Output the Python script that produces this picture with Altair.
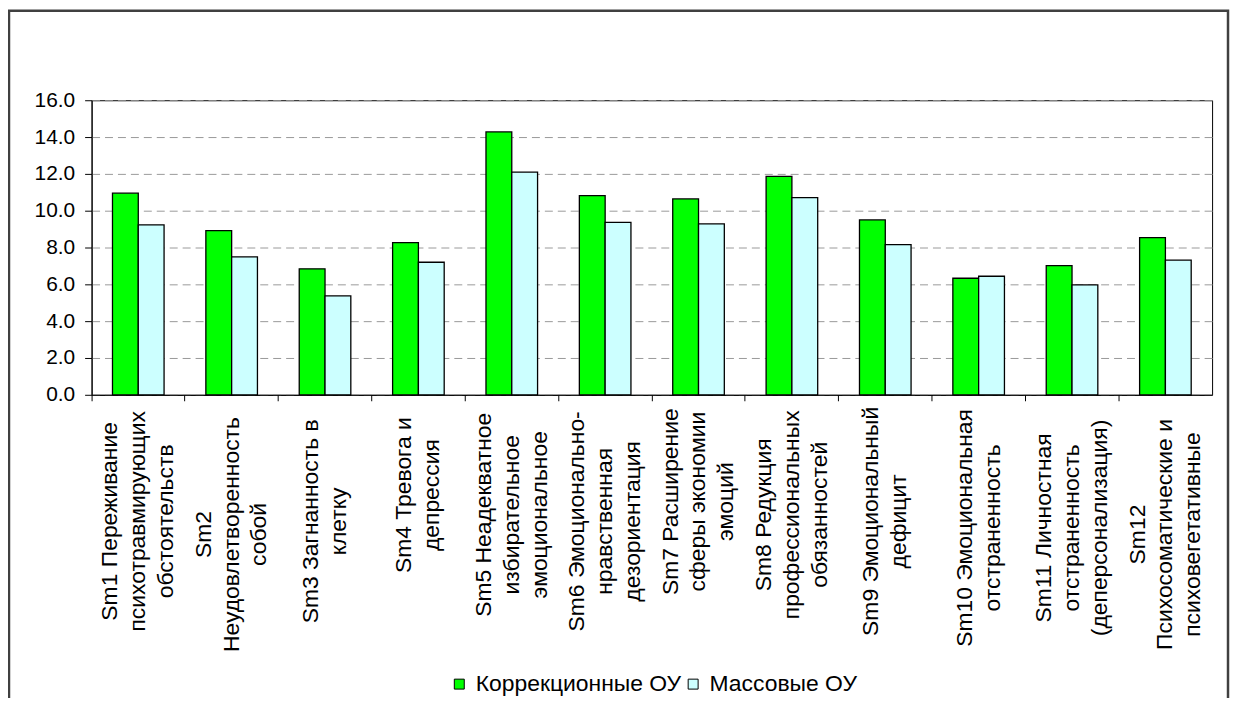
import altair as alt
import pandas as pd

codes = ["Sm1", "Sm2", "Sm3", "Sm4", "Sm5", "Sm6", "Sm7", "Sm8", "Sm9", "Sm10", "Sm11", "Sm12"]
label_lines = [
    ["Sm1 Переживание", "психотравмирующих", "обстоятельств"],
    ["Sm2", "Неудовлетворенность", "собой"],
    ["Sm3 Загнанность в", "клетку"],
    ["Sm4 Тревога и", "депрессия"],
    ["Sm5 Неадекватное", "избирательное", "эмоциональное"],
    ["Sm6 Эмоционально-", "нравственная", "дезориентация"],
    ["Sm7 Расширение", "сферы экономии", "эмоций"],
    ["Sm8 Редукция", "профессиональных", "обязанностей"],
    ["Sm9 Эмоциональный", "дефицит"],
    ["Sm10 Эмоциональная", "отстраненность"],
    ["Sm11 Личностная", "отстраненность", "(деперсонализация)"],
    ["Sm12", "Психосоматические и", "психовегетативные"],
]
korr = [10.95, 8.92, 6.84, 8.27, 14.28, 10.82, 10.64, 11.87, 9.50, 6.33, 7.02, 8.54]
mass = [9.23, 7.49, 5.37, 7.20, 12.09, 9.37, 9.28, 10.71, 8.16, 6.44, 5.97, 7.31]
series = ["Коррекционные ОУ", "Массовые ОУ"]
colors = ["#00FF00", "#CCFFFF"]
y_ticks = [0, 2, 4, 6, 8, 10, 12, 14, 16]

FONT = "Liberation Sans"

bars_df = pd.DataFrame({
    "code": codes + codes,
    "series": [series[0]] * len(codes) + [series[1]] * len(codes),
    "value": korr + mass,
})
labels_df = pd.DataFrame({
    "code": codes,
    "label": ["\n".join(l) for l in label_lines],
    "maxchars": [max(len(s) for s in l) for l in label_lines],
    "nlines": [len(l) for l in label_lines],
})

y_scale = alt.Scale(domain=[0, 16], nice=False)
y_axis = alt.Axis(values=y_ticks, format=".1f", title=None, tickSize=7,
                  tickColor="black", domainColor="black", labelColor="black",
                  labelFontSize=21, labelFont=FONT, labelPadding=10,
                  gridDash=[8, 5], gridColor="#999999", gridWidth=1)
x_scale = alt.Scale(paddingInner=0, paddingOuter=0)
x_axis = alt.Axis(labels=False, title=None, bandPosition=0, tickSize=6,
                  tickColor="black", domainColor="black", grid=False)

bars = alt.Chart(bars_df).mark_bar(stroke="black", strokeWidth=1.3).encode(
    x=alt.X("code:N", sort=codes, scale=x_scale, axis=x_axis),
    xOffset=alt.XOffset("series:N", sort=series,
                        scale=alt.Scale(paddingInner=0, paddingOuter=0.81)),
    y=alt.Y("value:Q", scale=y_scale, axis=y_axis),
    fill=alt.Fill("series:N", sort=series,
                  scale=alt.Scale(domain=series, range=colors),
                  legend=alt.Legend(title=None, orient="none", legendX=358, legendY=575,
                                    direction="horizontal", symbolType="square",
                                    symbolSize=100, symbolStrokeColor="black",
                                    symbolStrokeWidth=1, labelFontSize=23, labelFont=FONT,
                                    labelColor="black", columnPadding=0, labelOffset=5,
                                    labelLimit=0, padding=0)),
)

texts = alt.Chart(labels_df).mark_text(
    angle=270, align="center", baseline="middle", lineBreak="\n",
    lineHeight=28, fontSize=23, font=FONT, color="black",
    dx=alt.expr("-(15 + datum.maxchars * 6.6)"),
    dy=alt.expr("-(datum.nlines - 1) * 14"),
).encode(
    x=alt.X("code:N", sort=codes, scale=x_scale, axis=x_axis),
    y=alt.YDatum(0, scale=y_scale, axis=y_axis),
    text="label:N",
)

frame = alt.Chart(pd.DataFrame({"k": [0]})).mark_rect(
    fill="white", fillOpacity=0, stroke="#404040", strokeWidth=2.5
).encode(
    x=alt.value(-83), x2=alt.value(1142), y=alt.value(-90), y2=alt.value(640)
)

chart = alt.layer(frame, bars, texts).properties(
    width=1126, height=296,
    padding={"left": 84, "top": 91, "right": 18, "bottom": 303},
    autosize=alt.AutoSizeParams(type="none"),
    background="white",
).configure_view(stroke="black", strokeWidth=1)

chart.save("out.html", embed_options={"renderer": "svg", "actions": False})
